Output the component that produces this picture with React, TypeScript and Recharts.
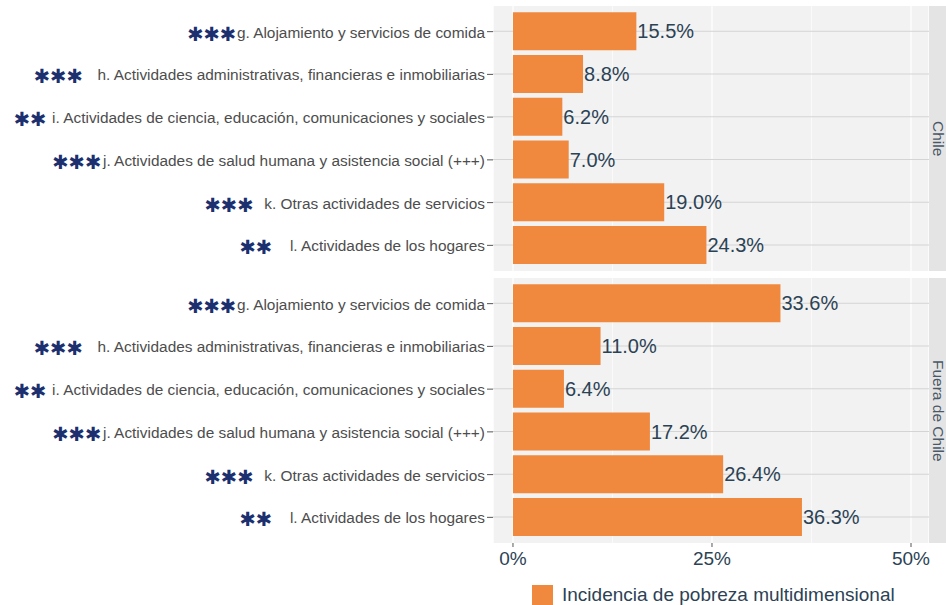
import React from 'react';
import { BarChart, Bar, XAxis, YAxis, CartesianGrid, LabelList } from 'recharts';

const categories = [
  'g. Alojamiento y servicios de comida',
  'h. Actividades administrativas, financieras e inmobiliarias',
  'i. Actividades de ciencia, educación, comunicaciones y sociales',
  'j. Actividades de salud humana y asistencia social (+++)',
  'k. Otras actividades de servicios',
  'l. Actividades de los hogares',
];
const significance = ['***', '***', '**', '***', '***', '**'];
const chileValues = [15.5, 8.8, 6.2, 7.0, 19.0, 24.3];
const fueraValues = [33.6, 11.0, 6.4, 17.2, 26.4, 36.3];
const panelNames = ['Chile', 'Fuera de Chile'];
const xTicks = [0, 25, 50];
const xMinorTicks = [12.5, 37.5];
const legendLabel = 'Incidencia de pobreza multidimensional';

// gap in px between the stars and the row label
const starGap = [1, 15, 6, 2, 11, 18];

const ORANGE = '#f0883e';
const NAVY = '#1c2f6e';
const INK = '#2b4255';
const FONT = '"Liberation Sans", Arial, sans-serif';
const W = 946;
const X_DOMAIN: [number, number] = [-2.51, 52.26];
const BAND_PAD = 4.27;

const toRows = (values: number[]) =>
  categories.map((cat, i) => ({ cat, stars: significance[i], value: values[i] }));

function RowTick(props: any) {
  const { x, y, payload, index } = props;
  const i = typeof index === 'number' ? index : categories.indexOf(payload.value);
  return (
    <text x={x} y={y} textAnchor="end" dominantBaseline="central" fontFamily={FONT}>
      <tspan fontFamily='"DejaVu Sans", sans-serif' fontSize={19.5} fill={NAVY} dy={2}>
        {significance[i].replace(/\*/g, '✱')}
      </tspan>
      <tspan fontSize={15.4} fill="#4d4d4d" dx={starGap[i]} dy={-2}>
        {payload.value}
      </tspan>
    </text>
  );
}

// horizontal grid line through the middle of each row, drawn under the bar
function RowLine(props: any) {
  const { x, y, width, height } = props;
  const cy = y + height / 2;
  return <line x1={x} x2={x + width} y1={cy} y2={cy} stroke="#d4d4d4" strokeWidth={1} />;
}

function Panel({ values, name, top, height, bottom, showAxis }: {
  values: number[]; name: string; top: number; height: number; bottom: number; showAxis: boolean;
}) {
  const data = toRows(values);
  return (
    <div style={{ position: 'absolute', left: 0, top, width: W, height }}>
      <BarChart
        width={W}
        height={height}
        data={data}
        layout="vertical"
        margin={{ top: 6, right: 17, left: 0, bottom }}
      >
        <CartesianGrid
          xAxisId="minor"
          fill="#f2f2f2"
          horizontal={false}
          stroke="#ffffff"
          strokeWidth={0.6}
        />
        <CartesianGrid horizontal={false} stroke="#ffffff" strokeWidth={1.2} />
        <XAxis
          xAxisId="minor"
          type="number"
          domain={X_DOMAIN}
          allowDataOverflow
          ticks={xMinorTicks}
          hide
        />
        <XAxis
          type="number"
          domain={X_DOMAIN}
          allowDataOverflow
          ticks={xTicks}
          hide={!showAxis}
          height={30}
          axisLine={false}
          tickLine={{ stroke: '#555' }}
          tickSize={4}
          tickMargin={5}
          tick={{ fontSize: 19, fill: INK, fontFamily: FONT }}
          tickFormatter={(v: number) => `${v}%`}
        />
        <YAxis
          type="category"
          dataKey="cat"
          width={493}
          axisLine={false}
          tickLine={{ stroke: '#555' }}
          tickSize={6}
          tickMargin={2}
          padding={{ top: BAND_PAD, bottom: BAND_PAD }}
          interval={0}
          tick={<RowTick />}
        />
        <Bar
          dataKey="value"
          fill={ORANGE}
          barSize={38}
          background={(p: any) => <RowLine key={`row-${p.index}`} {...p} />}
          isAnimationActive={false}
        >
          <LabelList
            dataKey="value"
            position="right"
            offset={1}
            fill={INK}
            fontSize={20}
            fontFamily={FONT}
            formatter={(v: any) => `${Number(v).toFixed(1)}%`}
          />
        </Bar>
      </BarChart>
      {/* facet strip on the right edge */}
      <div
        style={{
          position: 'absolute',
          left: 929,
          top: 6,
          width: 22,
          height: 265,
          background: '#e4e4e4',
          display: 'flex',
          alignItems: 'center',
          justifyContent: 'center',
        }}
      >
        <span
          style={{
            writingMode: 'vertical-rl',
            fontFamily: FONT,
            fontSize: 15.5,
            color: '#4a5868',
            whiteSpace: 'nowrap',
            marginLeft: -4,
          }}
        >
          {name}
        </span>
      </div>
    </div>
  );
}

export default function App() {
  return (
    <div style={{ position: 'fixed', left: 0, top: 0, width: W, height: 605, background: '#fff', overflow: 'hidden' }}>
      <Panel values={chileValues} name={panelNames[0]} top={0} height={278} bottom={7} showAxis={false} />
      <Panel values={fueraValues} name={panelNames[1]} top={272} height={333} bottom={32} showAxis />
      <div
        style={{
          position: 'absolute',
          left: 532,
          top: 584,
          display: 'flex',
          alignItems: 'center',
          fontFamily: FONT,
          fontSize: 19,
          color: INK,
        }}
      >
        <span style={{ width: 21, height: 21, background: ORANGE, display: 'inline-block', marginRight: 9 }} />
        {legendLabel}
      </div>
    </div>
  );
}
